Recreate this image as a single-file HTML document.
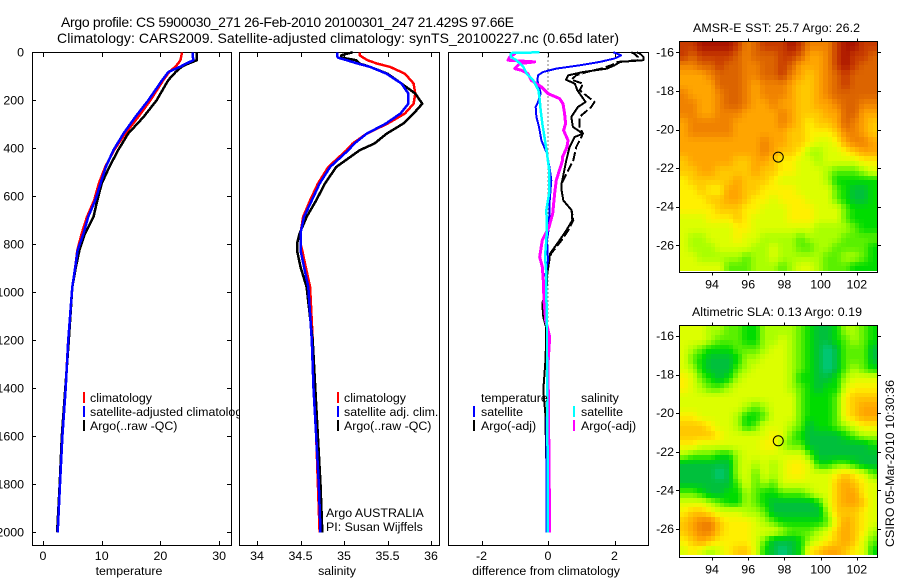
<!DOCTYPE html>
<html lang="en">
<head>
<meta charset="utf-8">
<title>Argo profile chart</title>
<style>
html,body{margin:0;padding:0;background:#fff;width:900px;height:580px;overflow:hidden}
svg{display:block}
text{font-family:"Liberation Sans",sans-serif;font-size:12.4px;fill:#000}
.ttl{font-size:14px}
.crisp{shape-rendering:crispEdges}
</style>
</head>
<body>
<svg id="chart" xmlns="http://www.w3.org/2000/svg" width="900" height="580" viewBox="0 0 900 580">
  <rect x="0" y="0" width="900" height="580" fill="#fff"/>
  <text class="ttl" x="61" y="27" textLength="453" lengthAdjust="spacing">Argo profile: CS 5900030_271 26-Feb-2010 20100301_247 21.429S 97.66E</text>
  <text class="ttl" x="57" y="43" textLength="562" lengthAdjust="spacing">Climatology: CARS2009. Satellite-adjusted climatology: synTS_20100227.nc (0.65d later)</text>
  <g id="panels"></g>
  <g id="maps"></g>
  <text x="693" y="32" textLength="167" lengthAdjust="spacing">AMSR-E SST: 25.7 Argo: 26.2</text>
  <text x="692" y="316" textLength="170" lengthAdjust="spacing">Altimetric SLA: 0.13 Argo: 0.19</text>
  <text transform="translate(894,547) rotate(-90)" textLength="167" lengthAdjust="spacing">CSIRO 05-Mar-2010 10:30:36</text>
</svg>
<script>
// ---------- Temperature profile data ----------
const tempDepths = [0,12,33,47,61,82,116,200,270,339,408,478,547,617,686,755,825,894,978,1200,1400,1600,1800,2000];
const tempClim   = [23.6,23.6,23.4,23.0,22.5,21.5,20.5,18.3,16.2,14.0,12.1,10.6,9.5,8.7,7.5,6.6,5.85,5.5,5.0,4.3,3.85,3.3,2.85,2.5];
const tempSat    = [25.5,25.5,25.6,24.4,23.3,21.35,20.3,17.94,15.7,13.7,12.0,10.7,9.8,8.9,7.7,6.9,5.9,5.5,5.0,4.3,3.86,3.3,2.9,2.5];
const tempArgo   = [26.2,26.2,26.2,24.75,23.6,22.6,21.35,19.35,17.1,14.5,12.8,11.3,10.0,9.25,8.6,7.15,6.2,5.6,5.0,4.4,3.8,3.2,2.85,2.4];

// ---------- Salinity profile data ----------
const salDepths = [0,12,22,33,47,61,89,130,172,214,255,297,339,380,408,478,547,617,686,755,797,825,894,978,1200,1400,1600,1800,2000];
const salClim   = [35.18,35.18,35.22,35.27,35.38,35.53,35.70,35.80,35.82,35.80,35.70,35.50,35.26,35.10,35.03,34.82,34.70,34.61,34.53,34.50,34.50,34.52,34.56,34.61,34.64,34.65,34.68,34.70,34.72];
const salSat    = [34.92,34.92,34.93,35.03,35.16,35.30,35.49,35.66,35.74,35.74,35.65,35.48,35.26,35.12,35.05,34.84,34.72,34.63,34.54,34.50,34.50,34.50,34.54,34.59,34.63,34.65,34.68,34.71,34.73];
const salArgo   = [35.10,34.97,34.97,35.14,35.18,35.30,35.50,35.66,35.82,35.90,35.80,35.68,35.49,35.35,35.18,34.91,34.78,34.68,34.57,34.49,34.46,34.46,34.50,34.57,34.64,34.67,34.70,34.73,34.75];

// ---------- Difference panel data ----------
const diffTempSatDepths = [0,12.5,26,40,54,68,82,96,117,144,172,207,228,269,311,367,422,485,533,617,728,783,867,922,1200,1600,2000];
const diffTempSat = [1.97,2.2,2.0,1.56,0.96,0.25,-0.15,-0.3,-0.32,-0.27,-0.22,-0.3,-0.37,-0.35,-0.27,-0.2,-0.03,0.05,0.1,0.05,0.03,-0.03,0,-0.07,-0.03,-0.04,-0.05];
const diffArgoDepths = [0,6,19,33,40,54,68,82,96,114,131,158,207,228,269,311,339,353,394,450,547,575,617,658,700,742,783,839,867,922,978,1047,1103,1144,1269,1408,1505,1700,2000];
const diffTempArgo = [2.67,2.77,2.87,2.87,2.17,2.0,1.77,1.06,0.61,0.54,0.81,0.88,1.13,0.9,0.7,0.75,1.05,0.8,0.65,0.55,0.41,0.41,0.46,0.71,0.73,0.55,0.35,0.06,0.04,-0.02,-0.04,-0.17,-0.14,-0.06,-0.07,-0.14,-0.08,-0.05,-0.04];
const diffTempAdj  = [2.5,2.6,2.7,2.7,2.1,1.9,1.6,1.16,0.85,0.7,1.06,0.95,1.4,1.3,0.95,0.95,1.05,1.0,0.85,0.76,0.41,0.41,0.46,0.71,0.76,0.61,0.41,0.09,0.04,-0.02,-0.04,-0.17,-0.14,-0.06,-0.07,-0.14,-0.08,-0.05,-0.04];
const diffSalSatDepths = [0,3,6,19,33,61,89,117,158,186,242,297,367,422,485,590,658,728,783,853,922,1000,1144,1269,2000];
const diffSalSat = [-0.25,-1.08,-1.12,-1.12,-0.95,-0.74,-0.64,-0.44,-0.29,-0.26,-0.22,-0.17,-0.09,-0.03,0.03,0.03,-0.05,-0.03,-0.05,-0.09,-0.05,-0.05,-0.03,-0.03,0];
const diffSalArgoDepths = [0,6,19,33,40,47,68,75,89,117,144,172,193,214,256,297,325,367,394,436,450,533,590,672,728,783,817,853,894,950,1033,1117,1186,1300,2000];
const diffSalArgo = [-1.0,-1.0,-1.15,-1.2,-0.4,-0.85,-1.0,-0.8,-0.6,-0.5,-0.2,0,0.35,0.45,0.5,0.53,0.47,0.6,0.57,0.44,0.44,0.25,0.2,0.14,0.03,-0.17,-0.21,-0.25,-0.17,-0.14,-0.12,-0.07,0.05,0,0.05];

// ---------- Axis ticks ----------
const depthTicks = [0,200,400,600,800,1000,1200,1400,1600,1800,2000];
const tempTicks  = [0,10,20,30];
const salTicks   = [34,34.5,35,35.5,36];
const salTickLabels = ['34','34.5','35','35.5','36'];
const diffTicks  = [-2,0,2];
const lonTicks   = [94,96,98,100,102];
const latTicks   = [16,18,20,22,24,26];

// ---------- Map grids (colour-scale level per 0.5 degree cell, north to south) ----------
const argoLon = 97.66;
const argoLat = 21.43;
const sstGrid = [
[11,11,12,12,12,12,11,9,10,11,11,11,12,11,9,9,9,11,12,12,11,11],
[11,10,11,11,11,11,10,9,10,10,10,11,11,10,8,8,9,11,12,11,11,10],
[9,9,10,10,11,10,10,9,9,10,10,11,10,8,8,8,9,11,12,11,10,10],
[8,8,8,9,10,10,10,9,9,10,10,11,9,8,7,8,9,10,11,10,10,10],
[8,8,8,8,10,10,10,9,8,9,9,9,8,7,7,8,9,10,11,10,10,10],
[9,8,8,8,9,10,10,9,8,9,9,9,8,7,7,8,9,10,10,10,10,10],
[9,9,8,8,9,10,10,9,8,8,9,8,8,7,7,8,8,9,10,10,9,9],
[9,9,8,8,9,9,9,8,8,8,8,9,8,7,7,7,8,8,10,10,8,8],
[8,9,9,9,9,9,8,8,8,8,8,9,8,7,6,7,7,8,10,9,8,7],
[8,9,9,9,9,9,8,8,8,8,8,8,7,7,6,6,6,7,9,9,8,7],
[8,8,8,8,8,8,8,8,8,9,8,8,7,7,6,5,5,6,8,9,9,8],
[8,8,8,8,8,8,8,8,8,9,8,7,7,6,4,4,5,5,6,7,8,8],
[7,8,8,8,8,8,7,7,8,8,7,6,6,5,5,4,5,5,5,5,6,6],
[7,7,8,8,7,7,7,7,8,7,7,6,6,5,5,5,4,3,3,3,4,5],
[6,7,7,7,7,7,8,7,7,7,6,5,5,5,5,5,4,2,2,2,2,2],
[6,6,7,6,6,8,8,7,7,6,6,6,6,5,5,5,5,3,2,1,1,2],
[6,6,6,7,7,8,8,7,6,6,5,6,6,6,5,5,5,3,2,1,1,2],
[6,6,6,6,7,7,7,6,6,5,5,5,6,6,6,5,5,5,3,2,2,2],
[5,5,5,6,6,6,7,6,5,5,5,5,6,6,6,5,5,5,3,2,2,2],
[5,5,5,5,5,5,6,6,5,5,5,5,5,5,5,4,4,4,4,3,2,2],
[5,4,4,5,5,5,6,5,5,4,4,4,4,3,4,4,4,4,3,3,3,3],
[5,4,4,4,5,5,5,5,4,4,5,4,4,3,3,4,4,3,3,3,3,2],
[5,5,4,4,4,4,4,3,4,4,5,4,4,4,4,4,3,3,4,4,3,2],
[5,5,5,5,5,3,3,3,4,4,4,3,4,5,5,4,3,3,3,2,2,2]
];
const slaGrid = [
[5,5,5,4,4,3,3,2,2,4,4,4,4,3,2,1,1,2,4,4,3,2],
[5,5,5,4,3,3,3,2,2,4,4,5,4,3,2,1,1,2,3,4,3,2],
[5,4,3,2,2,2,3,3,3,4,5,5,4,3,2,1,0,1,3,3,3,1],
[5,3,2,1,1,1,2,4,4,5,5,5,4,3,2,1,0,1,3,3,3,1],
[5,4,2,1,1,1,3,4,5,5,5,5,4,3,2,1,0,1,3,4,3,2],
[6,5,3,2,1,2,4,5,5,5,5,5,4,2,2,1,1,2,4,5,5,5],
[6,5,4,3,3,4,5,5,5,5,5,5,4,3,2,1,2,2,5,6,6,6],
[5,5,5,5,5,5,5,5,5,5,5,5,5,3,2,2,2,3,6,7,7,7],
[5,5,5,5,5,5,5,4,3,4,5,5,5,3,2,2,2,3,6,7,8,8],
[6,6,5,5,5,5,4,2,2,3,5,5,5,3,2,2,2,3,6,7,8,8],
[7,7,7,6,5,5,4,2,3,5,5,5,4,3,1,2,2,3,4,5,6,6],
[7,7,7,7,6,5,5,5,5,5,6,5,3,2,1,1,1,1,2,3,4,4],
[6,6,5,5,5,5,5,5,5,6,6,4,3,3,1,1,1,1,1,1,1,2],
[4,3,3,3,2,2,4,5,5,5,5,5,5,5,3,1,1,1,1,1,1,1],
[1,1,1,1,1,1,4,5,4,5,4,5,6,6,5,2,2,3,3,2,1,1],
[1,1,1,1,0,1,4,5,3,5,4,5,6,6,5,5,5,6,7,6,5,3],
[1,1,1,1,1,1,3,5,3,4,3,5,5,5,5,5,5,7,8,7,6,5],
[3,3,2,1,1,2,2,4,3,2,2,3,3,3,4,5,5,7,8,8,6,5],
[5,5,5,4,3,2,2,4,3,2,1,1,1,1,1,2,5,7,8,8,7,5],
[6,7,7,6,5,5,5,4,4,3,1,1,1,1,1,1,4,7,7,7,6,5],
[7,8,9,9,7,6,6,6,5,4,3,2,2,2,2,2,3,6,8,7,6,5],
[7,8,9,9,7,6,6,6,5,5,5,4,3,3,3,4,5,7,8,7,6,4],
[6,7,8,7,6,6,6,6,5,3,1,1,1,2,4,5,6,7,8,7,5,3],
[5,6,5,4,5,6,7,7,5,2,1,0,1,2,6,7,8,8,7,6,5,2]
];

// ---------- Rendering ----------
const SVGNS = 'http://www.w3.org/2000/svg';
function add(parent, tag, attrs) {
  const e = document.createElementNS(SVGNS, tag);
  for (const k in attrs) e.setAttribute(k, attrs[k]);
  parent.appendChild(e);
  return e;
}
const colourStops = [[0,200,130],[0,192,60],[0,220,0],[90,240,0],[170,255,0],[220,255,0],[255,240,0],[255,200,0],[255,165,0],[240,130,0],[220,100,0],[200,60,0],[170,20,0]];
function levelColour(v) {
  const t = Math.max(0, Math.min(colourStops.length - 1, v));
  const i = Math.min(colourStops.length - 2, Math.floor(t));
  const f = t - i;
  const a = colourStops[i], b = colourStops[i + 1];
  return 'rgb(' + a.map((c, k) => Math.round(c + (b[k] - c) * f)).join(',') + ')';
}
// The reference image has twice the grid's resolution: sample the grid at half-cell steps.
function sampleGrid(grid, rf, cf) {
  const r = Math.max(0, Math.min(grid.length - 1, rf));
  const c = Math.max(0, Math.min(grid[0].length - 1, cf));
  const r0 = Math.floor(r), c0 = Math.floor(c);
  const r1 = Math.min(grid.length - 1, r0 + 1), c1 = Math.min(grid[0].length - 1, c0 + 1);
  const fr = r - r0, fc = c - c0;
  return (grid[r0][c0] * (1 - fc) + grid[r0][c1] * fc) * (1 - fr) + (grid[r1][c0] * (1 - fc) + grid[r1][c1] * fc) * fr;
}

const depthY = d => 52.3 + d * 0.24;
const tempX = v => 43 + v * 5.87;
const salX = v => 257 + (v - 34) * 87;
const diffX = v => 548 + v * 33.25;

const panelsG = document.getElementById('panels');
const mapsG = document.getElementById('maps');

function drawLine(g, xf, depths, vals, colour, width, name, dash) {
  const pts = vals.map((v, i) => xf(v).toFixed(1) + ',' + depthY(depths[i]).toFixed(1)).join(' ');
  const line = add(g, 'polyline', {points: pts, fill: 'none', stroke: colour, 'stroke-width': width, 'class': 'crisp', 'stroke-linejoin': 'round'});
  if (dash) line.setAttribute('stroke-dasharray', dash);
  
  
}

function drawPanel(cfg) {
  const g = add(panelsG, 'g', {});
  
  
  const bg = add(g, 'rect', {x: cfg.x0, y: 52.5, width: cfg.x1 - cfg.x0, height: 493, fill: '#fff', stroke: '#000', 'stroke-width': 1, 'class': 'crisp'});
  
  
  cfg.ticks.forEach((t, i) => {
    const x = Math.round(cfg.xf(t)) + 0.5;
    const top = add(g, 'line', {x1: x, x2: x, y1: 52, y2: 57, stroke: '#000', 'class': 'crisp'});
    
    
    const bot = add(g, 'line', {x1: x, x2: x, y1: 541, y2: 546, stroke: '#000', 'class': 'crisp'});
    
    
    const lab = add(g, 'text', {x: cfg.xf(t), y: 560, 'text-anchor': 'middle'});
    lab.textContent = cfg.labels[i];
    
    
  });
  const xl = add(g, 'text', {x: cfg.labelX, y: 575, 'text-anchor': 'middle'});
  xl.textContent = cfg.xlabel;
  
  
  cfg.series.forEach(s => drawLine(g, cfg.xf, s.d, s.v, s.c, s.w, s.name, s.dash));
  cfg.legend.forEach(l => {
    if (l.c) {
      const m = add(g, 'line', {x1: l.mx, x2: l.mx, y1: l.y - 6, y2: l.y + 5, stroke: l.c, 'stroke-width': 2, 'class': 'crisp'});
      
      
    }
    const t = add(g, 'text', {x: l.tx, y: l.y + 4});
    t.textContent = l.t;
    
    
  });
}

drawPanel({
  name: 'temperature-panel', x0: 32.5, x1: 231.5, xf: tempX, ticks: tempTicks, labels: tempTicks.map(String),
  xlabel: 'temperature', labelX: 129,
  series: [
    {d: tempDepths, v: tempClim, c: '#f00', w: 2.5, name: 'temperature-climatology-line'},
    {d: tempDepths, v: tempArgo, c: '#000', w: 2.5, name: 'temperature-argo-line'},
    {d: tempDepths, v: tempSat, c: '#00f', w: 2.5, name: 'temperature-satellite-line'}
  ],
  legend: [
    {mx: 84, tx: 90, y: 398, c: '#f00', t: 'climatology'},
    {mx: 84, tx: 90, y: 412, c: '#00f', t: 'satellite-adjusted climatology'},
    {mx: 84, tx: 90, y: 426, c: '#000', t: 'Argo(..raw -QC)'}
  ]
});

depthTicks.forEach(d => {
  const y = Math.round(depthY(d)) + 0.5;
  const a = add(panelsG, 'line', {x1: 32, x2: 36, y1: y, y2: y, stroke: '#000', 'class': 'crisp'});
  
  
  const b = add(panelsG, 'line', {x1: 227, x2: 231, y1: y, y2: y, stroke: '#000', 'class': 'crisp'});
  
  
  const t = add(panelsG, 'text', {x: 24, y: depthY(d) + 4, 'text-anchor': 'end'});
  t.textContent = String(d);
  
  
});

drawPanel({
  name: 'salinity-panel', x0: 239.5, x1: 439.5, xf: salX, ticks: salTicks, labels: salTickLabels,
  xlabel: 'salinity', labelX: 337,
  series: [
    {d: salDepths, v: salClim, c: '#f00', w: 2.5, name: 'salinity-climatology-line'},
    {d: salDepths, v: salArgo, c: '#000', w: 2.5, name: 'salinity-argo-line'},
    {d: salDepths, v: salSat, c: '#00f', w: 2.5, name: 'salinity-satellite-line'}
  ],
  legend: [
    {mx: 338, tx: 344, y: 398, c: '#f00', t: 'climatology'},
    {mx: 338, tx: 344, y: 412, c: '#00f', t: 'satellite adj. clim.'},
    {mx: 338, tx: 344, y: 426, c: '#000', t: 'Argo(..raw -QC)'},
    {tx: 326, y: 513, t: 'Argo AUSTRALIA'},
    {tx: 326, y: 527, t: 'PI: Susan Wijffels'}
  ]
});

drawPanel({
  name: 'difference-panel', x0: 448.5, x1: 648.5, xf: diffX, ticks: diffTicks, labels: diffTicks.map(String),
  xlabel: 'difference from climatology', labelX: 546,
  series: [
    {d: [0, 2000], v: [0, 0], c: '#000', w: 1, name: 'zero-reference-line', dash: '1 3'},
    {d: diffArgoDepths, v: diffTempAdj, c: '#000', w: 2, name: 'temperature-argo-adjusted-line', dash: '9 3'},
    {d: diffArgoDepths, v: diffTempArgo, c: '#000', w: 2, name: 'temperature-argo-diff-line'},
    {d: diffTempSatDepths, v: diffTempSat, c: '#00f', w: 2, name: 'temperature-satellite-diff-line'},
    {d: diffSalArgoDepths, v: diffSalArgo, c: '#f0f', w: 3, name: 'salinity-argo-diff-line'},
    {d: diffSalSatDepths, v: diffSalSat, c: '#0ff', w: 2.5, name: 'salinity-satellite-diff-line'}
  ],
  legend: [
    {tx: 481, y: 398, t: 'temperature'},
    {mx: 474, tx: 481, y: 412, c: '#00f', t: 'satellite'},
    {mx: 474, tx: 481, y: 426, c: '#000', t: 'Argo(-adj)'},
    {tx: 581, y: 398, t: 'salinity'},
    {mx: 574, tx: 581, y: 412, c: '#0ff', t: 'satellite'},
    {mx: 574, tx: 581, y: 426, c: '#f0f', t: 'Argo(-adj)'}
  ]
});

function drawMap(name, grid, yTop, yBottom, lat16Y) {
  const g = add(mapsG, 'g', {});
  
  
  const lonX = lon => 712 + (lon - 94) * 18.1;
  const latY = lat => lat16Y + (lat - 16) * 19.3;
  const lon0 = 92.18, dLon = 0.4972 / 2;
  const lat0 = 16 + (yTop - lat16Y) / 19.3, dLat = 0.496 / 2;
  const rows = grid.length * 2, cols = grid[0].length * 2;
  for (let r = 0; r < rows; r++) {
    for (let c = 0; c < cols; c++) {
      const v = sampleGrid(grid, (r + 0.5) / 2 - 0.5, (c + 0.5) / 2 - 0.5);
      const x0 = Math.round(lonX(lon0 + c * dLon));
      const x1 = Math.round(lonX(lon0 + (c + 1) * dLon));
      const y0 = Math.round(latY(lat0 + r * dLat));
      const y1 = Math.round(latY(lat0 + (r + 1) * dLat));
      const cell = add(g, 'rect', {x: x0, y: y0, width: x1 - x0, height: y1 - y0, fill: levelColour(v), 'class': 'crisp'});
      
      
    }
  }
  const frame = add(g, 'rect', {x: 679.5, y: yTop, width: 198, height: yBottom - yTop, fill: 'none', stroke: '#000', 'class': 'crisp'});
  
  
  lonTicks.forEach(l => {
    const x = Math.round(lonX(l)) + 0.5;
    const t1 = add(g, 'line', {x1: x, x2: x, y1: yTop - 3, y2: yTop, stroke: '#000', 'class': 'crisp'});
    
    
    const t2 = add(g, 'line', {x1: x, x2: x, y1: yBottom, y2: yBottom + 3, stroke: '#000', 'class': 'crisp'});
    
    
    const lab = add(g, 'text', {x: lonX(l), y: yBottom + 16, 'text-anchor': 'middle'});
    lab.textContent = String(l);
    
    
  });
  latTicks.forEach(l => {
    const y = Math.round(latY(l)) + 0.5;
    const t1 = add(g, 'line', {x1: 676, x2: 679, y1: y, y2: y, stroke: '#000', 'class': 'crisp'});
    
    
    const t2 = add(g, 'line', {x1: 878, x2: 881, y1: y, y2: y, stroke: '#000', 'class': 'crisp'});
    
    
    const lab = add(g, 'text', {x: 674, y: latY(l) + 4, 'text-anchor': 'end'});
    lab.textContent = '-' + l;
    
    
  });
  const marker = add(g, 'circle', {cx: lonX(argoLon), cy: latY(argoLat), r: 5, fill: 'none', stroke: '#000', 'stroke-width': 1});
  
  
}
drawMap('sst-map', sstGrid, 41.5, 272.5, 52.3);
drawMap('sla-map', slaGrid, 325.5, 557.5, 336);
</script>
</body>
</html>
